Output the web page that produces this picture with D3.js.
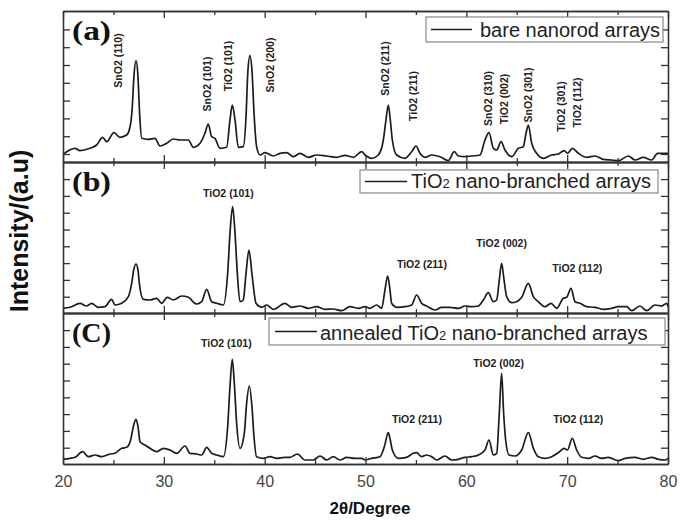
<!DOCTYPE html>
<html><head><meta charset="utf-8">
<script src="https://cdn.jsdelivr.net/npm/d3@7"></script>
<style>body{margin:0;background:#fff}svg{display:block}</style>
</head><body>
<svg id="c" width="685" height="524"></svg>
<script>
// ---------- DATA (2θ in degrees, intensity in a.u.) ----------
const xTickValues = [20, 30, 40, 50, 60, 70, 80];
const xMinorTicks = [25, 35, 45, 55, 65, 75];

const barePattern = [[20.0,7.7],[21.19,13.7],[21.68,11.3],[22.68,13.7],[23.34,17],[23.93,24.7],[24.33,20.3],[25.06,29.3],[25.65,24.7],[26.31,27],[26.64,34.7],[26.85,52],[27.05,88],[27.24,101.3],[27.42,88],[27.6,48],[27.8,23.7],[28.46,22.7],[29.12,23.7],[29.62,16],[30.28,18.7],[30.94,23],[31.6,22],[32.43,22],[32.92,14.7],[33.59,18.7],[34.08,28.7],[34.41,38],[34.74,25.3],[35.07,23.7],[35.57,13.7],[36.23,14.7],[36.56,42],[36.79,57],[37.06,42],[37.39,14.7],[37.88,15.3],[38.15,45],[38.33,90],[38.54,106.3],[38.75,90],[38.95,48],[39.2,15.3],[39.54,7],[40.03,9.3],[40.86,6],[41.52,8.7],[42.18,9.3],[42.84,5.3],[43.5,8.7],[44.33,4.7],[45.16,7],[46.15,6],[47.14,4.7],[47.97,6.7],[48.79,4.7],[49.62,10.3],[49.95,7],[50.61,3.7],[51.27,7],[51.77,22],[52.03,42],[52.26,57],[52.46,42],[52.66,22],[53.09,7],[53.92,3.7],[54.58,10.3],[55.01,16],[55.4,8.7],[55.9,4.7],[56.56,7],[57.39,5.3],[58.21,1.3],[58.81,10.3],[59.21,6],[59.87,5.3],[60.53,6],[61.36,7],[61.85,22],[62.25,29.3],[62.68,13.7],[63.01,12],[63.44,20.3],[63.83,12],[64.5,5.3],[65.16,13.7],[65.65,15.3],[65.92,28.7],[66.15,37],[66.48,18.7],[66.97,8.7],[67.64,3.7],[68.46,7],[69.12,8],[69.69,11.3],[70.05,8.7],[70.51,13.7],[71.11,8.7],[71.93,4.7],[72.76,6],[73.59,2.7],[74.41,2],[75.07,1.3],[76.07,6],[76.73,2],[77.55,4.7],[78.38,2],[78.97,8.7],[79.7,8.7],[80.0,8.7]];

const branchedPattern = [[20.0,4.7],[20.69,5.7],[21.68,9.7],[22.34,7],[22.84,9.7],[23.5,5.7],[24.16,6.3],[24.82,13.7],[25.15,8],[25.82,9.7],[26.48,16.3],[26.81,29.7],[27.03,44],[27.24,49],[27.42,44],[27.57,29.7],[27.97,13.7],[28.63,13],[29.29,14.7],[29.78,9.7],[30.34,15.7],[30.94,13],[31.77,17],[32.43,15.7],[33.25,9],[33.75,11.3],[34.25,23.7],[34.74,11.3],[35.24,9.7],[35.9,8],[36.33,39.7],[36.56,79.7],[36.82,106.3],[37.06,79.7],[37.29,39.7],[37.55,11.3],[37.88,13],[38.15,39.7],[38.44,63],[38.77,36.3],[39.14,9.7],[39.7,5.7],[40.2,8],[40.86,3.7],[42.01,9.7],[42.68,5.7],[43.5,7],[44.33,4.7],[45.16,6.3],[45.98,3.7],[46.81,4],[47.63,2.3],[48.46,6.3],[49.29,4.7],[49.95,6.3],[50.45,4.7],[51.11,8],[51.6,4.7],[51.93,23],[52.2,37],[52.43,23],[52.59,9.7],[53.09,5.7],[53.92,6.3],[54.58,8],[55.07,18],[55.57,9.7],[56.07,7],[56.89,3],[57.55,5.7],[58.38,5.7],[59.21,4.7],[59.87,7],[60.53,6.3],[61.19,7],[61.69,13],[62.18,20.3],[62.68,11.3],[63.01,13],[63.27,33],[63.5,49.7],[63.74,33],[64.0,16.3],[64.5,10.3],[64.99,11.3],[65.49,15.7],[66.15,29.7],[66.65,16.3],[67.14,11.3],[67.8,6.3],[68.4,9.7],[68.96,4.7],[69.62,14.7],[69.95,15.7],[70.38,24.7],[70.78,11.3],[71.27,9.7],[71.93,6.3],[72.76,5.7],[73.59,3.7],[74.41,4.7],[75.07,6.3],[75.9,6.3],[76.4,2.3],[77.22,7],[77.88,2.3],[78.71,8],[79.37,7],[79.87,9.7],[80.0,6.3]];

const annealedPattern = [[20.0,4.7],[20.69,5.7],[21.19,6.7],[21.95,12.3],[22.51,7.3],[23.17,9],[23.83,7.3],[24.66,10],[25.15,10.7],[25.82,15.7],[26.31,16.7],[26.71,24],[26.97,37.3],[27.24,44.7],[27.44,37.3],[27.64,22.3],[28.13,19],[28.63,15.7],[29.29,12.3],[29.95,15.7],[30.61,14],[31.27,10.7],[32.1,18],[32.59,10.7],[33.25,10],[33.75,9],[34.25,16.7],[34.74,10.7],[35.24,9],[35.9,7.3],[36.33,37.3],[36.56,77.3],[36.79,104.7],[36.99,80.7],[37.22,40.7],[37.55,15.7],[37.98,30.7],[38.21,60.7],[38.48,78],[38.74,57.3],[38.94,27.3],[39.2,7.3],[39.87,5.7],[40.53,7.3],[41.19,5.7],[42.01,6.7],[42.51,6.7],[43.24,10],[44.0,4],[44.83,4],[45.49,8],[46.15,4],[46.81,7.3],[47.47,4],[48.13,6.7],[48.96,5.7],[49.62,5.7],[49.95,4],[50.61,5.7],[51.44,7.3],[51.87,17.3],[52.26,31.3],[52.46,24],[52.66,14],[53.26,5.7],[54.08,6.7],[54.74,10.7],[55.07,11.3],[55.57,7.3],[56.07,9],[56.56,7.3],[57.06,4],[57.88,8],[58.55,4],[59.21,4.7],[59.87,6.7],[60.53,7.3],[61.19,9],[61.85,14],[62.25,24],[62.68,9],[63.01,10.7],[63.27,50.7],[63.5,90.7],[63.7,50.7],[63.9,24],[64.23,9],[64.83,8],[65.49,14],[66.15,31.3],[66.65,15.7],[67.14,7.3],[67.8,5.7],[68.46,7.3],[69.12,11.3],[69.69,15.7],[70.02,14],[70.51,25.7],[70.94,14],[71.44,6.7],[72.1,5.7],[72.76,8],[73.42,5.7],[74.08,6.7],[75.07,3.3],[75.74,5.7],[76.73,6.7],[77.55,4.7],[78.38,6.7],[79.04,4.7],[79.7,4],[80.0,5.7]];

const panelLetters = ["(a)", "(b)", "(C)"];
const legendLabels = [["bare nanorod arrays"], ["TiO", "2", " nano-branched arrays"], ["annealed TiO", "2", " nano-branched arrays"]];
const yTicksA = [8, 25.8, 43.6, 61.4, 79.2, 97, 114.8, 132.6];
const yTicksBC = [16.3, 33.1, 49.9, 66.7, 83.5, 100.3, 117.1, 133.9];

// annotations: [label, 2θ position of label]
const peaksA = [["SnO2 (110)",25.45],["SnO2 (101)",34.3],["TiO2 (101)",36.4],["SnO2 (200)",40.5],["SnO2 (211)",51.9],["TiO2 (211)",54.7],["SnO2 (310)",62.15],["TiO2 (002)",63.75],["SnO2 (301)",66.1],["TiO2 (301)",69.4],["TiO2 (112)",71.0]];
const peaksB = [["TiO2 (101)",36.4],["TiO2 (211)",55.6],["TiO2 (002)",63.5],["TiO2 (112)",71.0]];
const peaksC = [["TiO2 (101)",36.2],["TiO2 (211)",55.1],["TiO2 (002)",63.2],["TiO2 (112)",71.1]];

// ---------- LAYOUT ----------
const svg = d3.select("#c");
const L = 63, R = 668;
const panels = [
  {top: 11, bottom: 162, data: barePattern, yt: yTicksA},
  {top: 162, bottom: 313, data: branchedPattern, yt: yTicksBC},
  {top: 313, bottom: 464, data: annealedPattern, yt: yTicksBC}
];
const x = d3.scaleLinear().domain([20, 80]).range([L, R]);
const ink = "#1c1c1c";
const sans = "'Liberation Sans', Arial, sans-serif";

panels.forEach((p, i) => {
  const y = d3.scaleLinear().domain([0, 151]).range([p.bottom, p.top]);
  p.y = y;
  const g = svg.append("g");
  g.append("path").datum(p.data)
    .attr("fill", "none").attr("stroke", ink).attr("stroke-width", 1.7)
    .attr("stroke-linejoin", "round")
    .attr("d", d3.line().x(d => x(d[0])).y(d => y(d[1])).curve(d3.curveMonotoneX));
  const mk = (axis, tr) => {
    const a = g.append("g").attr("transform", tr).call(axis);
    a.selectAll("line").attr("stroke", "#333").attr("stroke-width", 1.3);
    a.select(".domain").attr("stroke", "#333").attr("stroke-width", 1.6);
    return a;
  };
  const last = i === 2;
  const bAx = mk(d3.axisBottom(x).tickValues(xTickValues).tickSizeInner(-7).tickSizeOuter(0).tickPadding(12)
      .tickFormat(last ? d3.format("d") : () => ""), `translate(0,${p.bottom})`);
  bAx.selectAll("text").attr("font-family", sans).attr("font-size", 16).attr("fill", "#444");
  mk(d3.axisBottom(x).tickValues(xMinorTicks).tickSizeInner(-4).tickSizeOuter(0).tickFormat(() => ""), `translate(0,${p.bottom})`);
  mk(d3.axisTop(x).tickValues(xTickValues).tickSizeInner(-7).tickSizeOuter(0).tickFormat(() => ""), `translate(0,${p.top})`);
  mk(d3.axisTop(x).tickValues(xMinorTicks).tickSizeInner(-4).tickSizeOuter(0).tickFormat(() => ""), `translate(0,${p.top})`);
  mk(d3.axisLeft(y).tickValues(p.yt).tickSizeInner(-7).tickSizeOuter(0).tickFormat(() => ""), `translate(${L},0)`);
  mk(d3.axisRight(y).tickValues(p.yt).tickSizeInner(-7).tickSizeOuter(0).tickFormat(() => ""), `translate(${R},0)`);

  g.append("text").attr("x", 72).attr("y", p.top + 29)
    .attr("font-family", "'Liberation Serif', 'Times New Roman', serif").attr("font-weight", "bold")
    .attr("font-size", 27).attr("textLength", 39).attr("lengthAdjust", "spacingAndGlyphs")
    .attr("fill", "#111").text(panelLetters[i]);
});

// legends
const legendBoxes = [
  {x0: 426, x1: 663, y0: 17, y1: 42, lx0: 431, lx1: 472, ty: 37, tx: 480},
  {x0: 360, x1: 658, y0: 170, y1: 193, lx0: 365, lx1: 407, ty: 188, tx: 411},
  {x0: 269, x1: 665, y0: 318, y1: 345, lx0: 275, lx1: 317, ty: 340, tx: 320}
];
legendBoxes.forEach((b, i) => {
  const g = svg.append("g");
  g.append("rect").attr("x", b.x0).attr("y", b.y0).attr("width", b.x1 - b.x0).attr("height", b.y1 - b.y0)
    .attr("fill", "#fff").attr("stroke", "#888").attr("stroke-width", 1.2);
  const ly = (b.y0 + b.y1) / 2;
  g.append("line").attr("x1", b.lx0).attr("x2", b.lx1).attr("y1", ly).attr("y2", ly)
    .attr("stroke", ink).attr("stroke-width", 1.5);
  const t = g.append("text").attr("x", b.tx).attr("y", b.ty)
    .attr("font-family", sans).attr("font-size", 20).attr("fill", "#222");
  legendLabels[i].forEach(s => {
    t.append("tspan").attr("font-size", s === "2" ? 13 : 20).text(s);
  });
});

// peak annotations
const annSize = 10.5;
const yA = panels[0].y;
const centersA = [101.5, 78, 96, 97, 93.5, 66, 63.5, 63, 67, 55.5, 59.5];
peaksA.forEach((d, k) => {
  svg.append("text")
    .attr("transform", `translate(${x(d[1])},${yA(centersA[k])}) rotate(-90)`)
    .attr("text-anchor", "middle").attr("dominant-baseline", "central")
    .attr("font-family", sans).attr("font-weight", "bold").attr("font-size", annSize)
    .attr("fill", "#222").text(d[0]);
});
const levelsB = [116, 45, 66, 41];
const levelsC = [117, 41, 97, 41];
[[peaksB, levelsB, 1], [peaksC, levelsC, 2]].forEach(([pk, lv, pi]) => {
  const y = panels[pi].y;
  pk.forEach((d, k) => {
    svg.append("text").attr("x", x(d[1])).attr("y", y(lv[k]))
      .attr("text-anchor", "middle")
      .attr("font-family", sans).attr("font-weight", "bold").attr("font-size", annSize)
      .attr("fill", "#222").text(d[0]);
  });
});

// axis titles
svg.append("text").attr("x", 370).attr("y", 514).attr("text-anchor", "middle")
  .attr("font-family", sans).attr("font-weight", "bold").attr("font-size", 17)
  .attr("fill", "#111").text("2θ/Degree");
svg.append("text").attr("transform", "translate(28,231) rotate(-90)").attr("text-anchor", "middle")
  .attr("font-family", sans).attr("font-weight", "bold").attr("font-size", 25)
  .attr("fill", "#111").text("Intensity/(a.u)");
</script>
</body></html>
